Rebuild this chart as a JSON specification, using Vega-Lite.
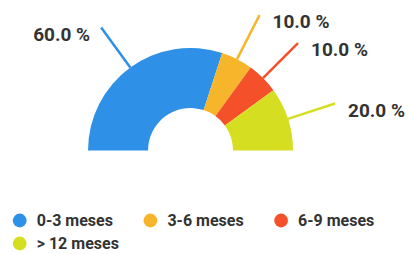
{
  "$schema": "https://vega.github.io/schema/vega-lite/v6.json",
  "width": 381,
  "height": 207,
  "autosize": {"type": "none"},
  "padding": {"left": 0, "top": 47, "right": 30, "bottom": 0},
  "background": "white",
  "data": {
    "values": [
      {"cat": "0-3 meses", "value": 60},
      {"cat": "3-6 meses", "value": 10},
      {"cat": "6-9 meses", "value": 10},
      {"cat": "> 12 meses", "value": 20}
    ]
  },
  "transform": [
    {"stack": "value", "groupby": [], "as": ["v0", "v1"], "sort": [{"field": "cat", "order": "ascending"}]},
    {"calculate": "(datum.v0 + datum.v1) / 2", "as": "mid"},
    {"calculate": "format(datum.value, '.1f') + ' %'", "as": "label"}
  ],
  "layer": [
    {
      "mark": {"type": "arc", "outerRadius": 102.5, "innerRadius": 42.5},
      "encoding": {
        "theta": {"field": "v0", "type": "quantitative", "scale": {"domain": [0, 100], "range": [-1.5708, 1.5708]}},
        "theta2": {"field": "v1"},
        "color": {
          "field": "cat", "type": "nominal",
          "scale": {"domain": ["0-3 meses", "3-6 meses", "6-9 meses", "> 12 meses"], "range": ["#2e90e6", "#f7b52c", "#f4502a", "#d6de22"]},
          "legend": {
            "orient": "none", "legendX": 11.7, "legendY": 165.5, "columns": 3, "direction": "horizontal",
            "title": null, "symbolType": "circle", "symbolSize": 190, "symbolStrokeWidth": 0,
            "labelFont": "Roboto", "labelFontSize": 16, "labelFontWeight": "bold", "labelColor": "#333333",
            "labelOffset": 9, "columnPadding": 22.7, "rowPadding": 7, "gridAlign": "all", "padding": 0
          }
        }
      }
    },
    {
      "mark": {"type": "arc", "outerRadius": 152, "innerRadius": 102.5, "strokeWidth": 2.5, "fillOpacity": 0},
      "encoding": {
        "theta": {"field": "mid", "type": "quantitative"},
        "theta2": {"field": "mid"},
        "stroke": {
          "field": "cat", "type": "nominal", "legend": null,
          "scale": {"domain": ["0-3 meses", "3-6 meses", "6-9 meses", "> 12 meses"], "range": ["#2e90e6", "#f7b52c", "#f4502a", "#d6de22"]}
        }
      }
    },
    {
      "transform": [{"filter": "datum.mid < 50"}],
      "mark": {"type": "text", "radius": 152, "align": "right", "baseline": "middle", "dx": -11, "dy": 7, "font": "Roboto", "fontSize": 19, "fontWeight": "bold", "color": "#333333"},
      "encoding": {
        "theta": {"field": "mid", "type": "quantitative"},
        "text": {"field": "label"}
      }
    },
    {
      "transform": [{"filter": "datum.mid >= 50"}],
      "mark": {"type": "text", "radius": 152, "align": "left", "baseline": "middle", "dx": 13, "dy": 7, "font": "Roboto", "fontSize": 19, "fontWeight": "bold", "color": "#333333"},
      "encoding": {
        "theta": {"field": "mid", "type": "quantitative"},
        "text": {"field": "label"}
      }
    }
  ],
  "config": {"view": {"stroke": null}}
}
